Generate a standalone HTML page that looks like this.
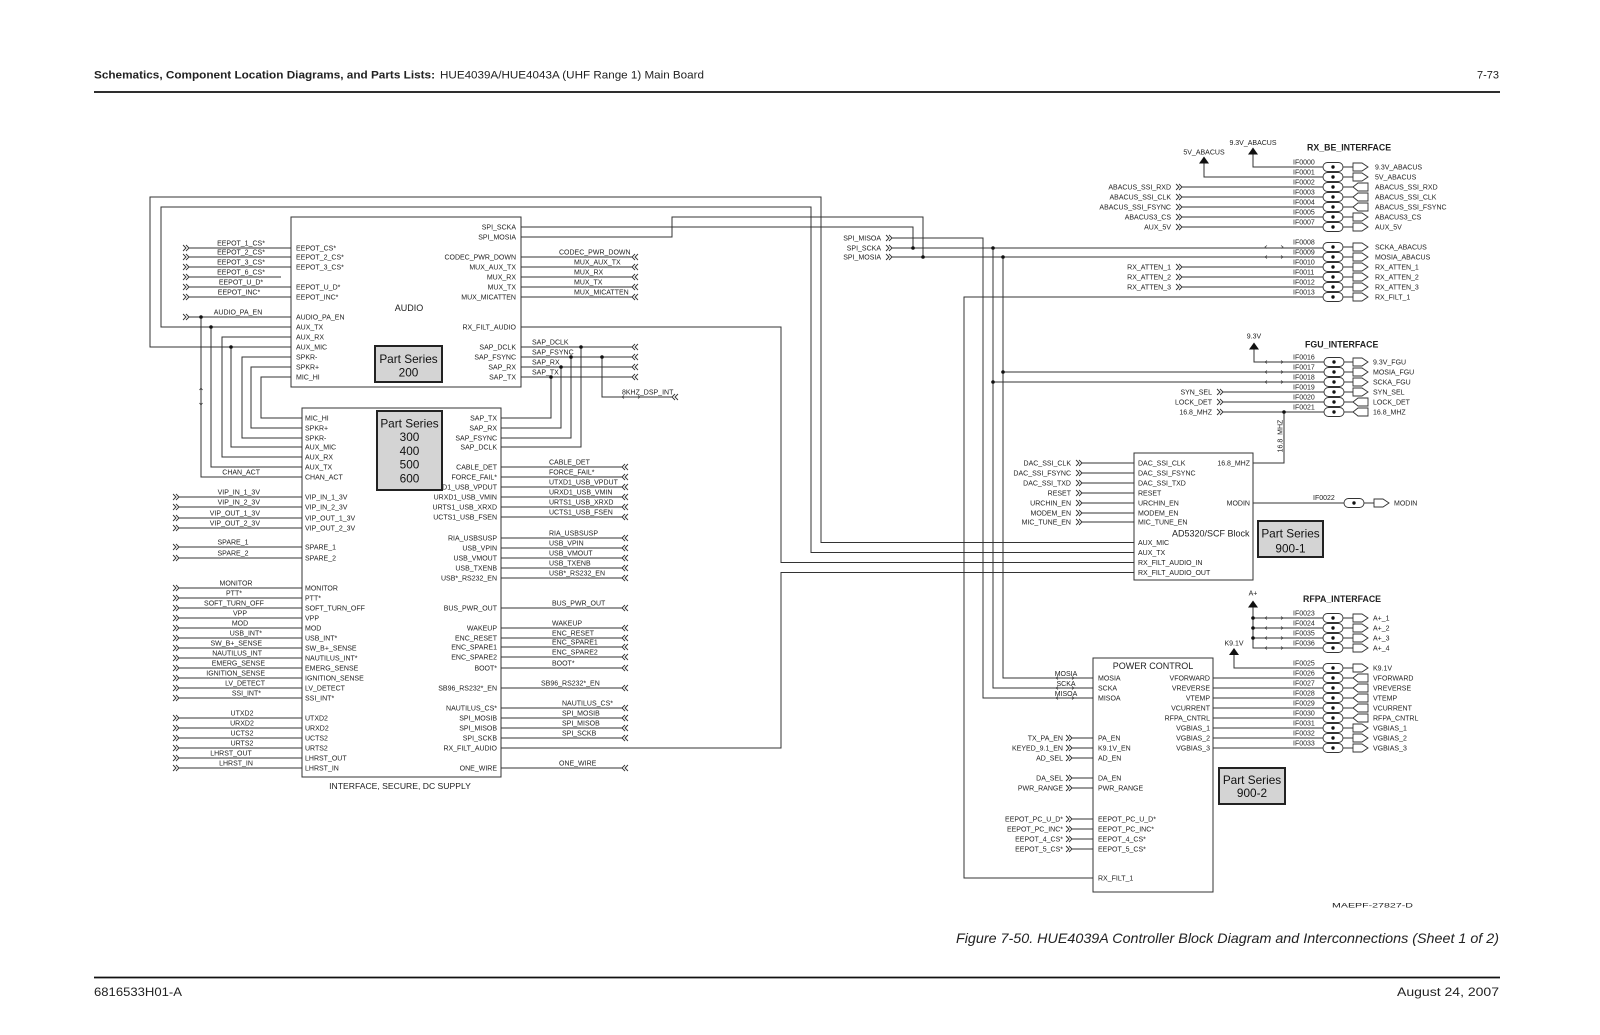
<!DOCTYPE html>
<html><head><meta charset="utf-8"><style>
html,body{margin:0;padding:0;background:#fff;}
svg{display:block;}
text{font-family:"Liberation Sans",Arial,sans-serif;fill:#222;}
.s{font-size:7px;}
.e{text-anchor:end;}
.m{text-anchor:middle;}
.ps{font-size:11.8px;fill:#111;text-anchor:middle;}
.b{font-weight:bold;font-size:8.8px;}
</style></head><body>
<svg width="1600" height="1035" viewBox="0 0 1600 1035" xmlns="http://www.w3.org/2000/svg">
<defs>
<path id="ai" d="M0,-3L3,0L0,3M3,-3L6,0L3,3" fill="none" stroke="#333" stroke-width="0.9"/>
<path id="ao" d="M6,-3L3,0L6,3M3,-3L0,0L3,3" fill="none" stroke="#333" stroke-width="0.9"/>
<polygon id="fo" points="0,-4 9,-4 15,0 9,4 0,4" fill="#fff" stroke="#333" stroke-width="0.9"/>
<polygon id="fi" points="0,0 5,-4 15,-4 15,4 5,4" fill="#fff" stroke="#333" stroke-width="0.9"/>
<g id="cn"><rect x="0" y="-4.5" width="20" height="9" rx="4.5" fill="#fff" stroke="#333" stroke-width="0.9"/><circle cx="10" cy="0" r="1.7" fill="#111"/></g>
<path id="tk" d="M2,-1.5L0,0L2,1.5M16,-1.5L18,0L16,1.5" fill="none" stroke="#333" stroke-width="0.7"/>
<polygon id="tri" points="-5,7 5,7 0,0" fill="#111"/>
<circle id="d" r="1.8" fill="#111"/>
</defs>
<rect width="1600" height="1035" fill="#fff"/>

<!-- header / footer -->
<text x="94" y="78.5" font-size="11" font-weight="bold" textLength="341" lengthAdjust="spacingAndGlyphs">Schematics, Component Location Diagrams, and Parts Lists:</text>
<text x="440" y="78.5" font-size="11" textLength="264" lengthAdjust="spacingAndGlyphs">HUE4039A/HUE4043A (UHF Range 1) Main Board</text>
<text x="1499" y="78.5" font-size="11" text-anchor="end">7-73</text>
<line x1="94" y1="92" x2="1500" y2="92" stroke="#111" stroke-width="1.8"/>
<line x1="94" y1="977.5" x2="1500" y2="977.5" stroke="#111" stroke-width="1.8"/>
<text x="94" y="996" font-size="12" textLength="88" lengthAdjust="spacingAndGlyphs">6816533H01-A</text>
<text x="1397" y="996" font-size="12" textLength="102" lengthAdjust="spacingAndGlyphs">August 24, 2007</text>
<text x="956" y="943" font-size="14" font-style="italic" textLength="543" lengthAdjust="spacingAndGlyphs">Figure 7-50. HUE4039A Controller Block Diagram and Interconnections (Sheet 1 of 2)</text>
<text x="1332" y="907.5" font-size="6.5" textLength="81" lengthAdjust="spacingAndGlyphs">MAEPF-27827-D</text>

<!-- wires -->
<g fill="none" stroke="#333" stroke-width="1">
<path d="M291,347H150V197H821V542.5H1134"/>
<path d="M291,327H161V207H811V552.5H1134"/>
<path d="M189,317H291M201,317V477H302"/>
<path d="M211,327V467H302"/>
<path d="M291,337H222V457H302"/>
<path d="M231,347V447H302"/>
<path d="M291,357H242V438H302"/>
<path d="M291,367H251V428H302"/>
<path d="M291,377H261V418H302"/>
<path d="M189,248H291M189,257H291M189,267H291M189,277H281M189,287H291M189,297H291"/>
<path d="M521,227H913V248"/>
<path d="M521,237H672V217H923V257"/>
<path d="M521,257H632M521,267H632M521,277H632M521,287H632M521,297H632"/>
<path d="M521,327H781V562.5H1134"/>
<path d="M521,347H632M521,357H632M521,367H632M521,377H632"/>
<path d="M581,347V447H501M571,357V438H501M561,367V428H501M551,377V418H501"/>
<path d="M602,357V397H672"/>
<path d="M501,748H781V572.5H1134"/>
<path d="M501,467H622M501,477H622M501,487H622M501,497H622M501,507H622M501,517H622M501,538H622M501,548H622M501,558H622M501,568H622M501,578H622M501,608H622M501,628H622M501,638H622M501,647H622M501,657H622M501,668H622M501,688H622M501,708H622M501,718H622M501,728H622M501,738H622M501,768H622"/>
<path d="M179,497H302M179,507H302M179,518H302M179,528H302M179,547H302M179,558H302M179,588H302M179,598H302M179,608H302M179,618H302M179,628H302M179,638H302M179,648H302M179,658H302M179,668H302M179,678H302M179,688H302M179,698H302M179,718H302M179,728H302M179,738H302M179,748H302M179,758H302M179,768H302"/>
<path d="M892,238H983V698H1093"/>
<path d="M892,248H1323M993,248V688H1093M993,382H1324"/>
<path d="M892,257H1323M1003,257V678H1093M1003,372H1324"/>
<path d="M1093,878H964V297H1323"/>
<path d="M1182,187H1323M1182,197H1323M1182,207H1323M1182,217H1323M1182,227H1323M1182,267H1323M1182,277H1323M1182,287H1323"/>
<path d="M1204,163V177H1323M1253,154V167H1323"/>
<path d="M1343,167H1353M1343,177H1353M1343,187H1353M1343,197H1353M1343,207H1353M1343,217H1353M1343,227H1353M1343,247H1353M1343,257H1353M1343,267H1353M1343,277H1353M1343,287H1353M1343,297H1353"/>
<path d="M1254,349V362H1324M1223,392H1324M1223,402H1324M1223,412H1324M1284,412V463H1253"/>
<path d="M1344,362H1353M1344,372H1353M1344,382H1353M1344,392H1353M1344,402H1353M1344,412H1353"/>
<path d="M1082,463H1134M1082,473H1134M1082,483H1134M1082,493H1134M1082,503H1134M1082,513H1134M1082,522H1134"/>
<path d="M1253,503H1344M1364,503H1374"/>
<path d="M1253,607V648H1323M1253,618H1323M1253,628H1323M1253,638H1323M1234,655V668H1323"/>
<path d="M1213,678H1323M1213,688H1323M1213,698H1323M1213,708H1323M1213,718H1323M1213,728H1323M1213,738H1323M1213,748H1323"/>
<path d="M1343,618H1353M1343,628H1353M1343,638H1353M1343,648H1353M1343,668H1353M1343,678H1353M1343,688H1353M1343,698H1353M1343,708H1353M1343,718H1353M1343,728H1353M1343,738H1353M1343,748H1353"/>
<path d="M1072,738H1093M1072,748H1093M1072,758H1093M1072,778H1093M1072,788H1093M1072,819H1093M1072,829H1093M1072,839H1093M1072,849H1093"/>
</g>

<!-- dots -->
<use href="#d" x="201" y="317"/><use href="#d" x="211" y="327"/><use href="#d" x="231" y="347"/>
<use href="#d" x="581" y="347"/><use href="#d" x="571" y="357"/><use href="#d" x="561" y="367"/><use href="#d" x="551" y="377"/><use href="#d" x="602" y="357"/>
<use href="#d" x="913" y="248"/><use href="#d" x="923" y="257"/><use href="#d" x="993" y="248"/><use href="#d" x="1003" y="257"/>
<use href="#d" x="993" y="382"/><use href="#d" x="1003" y="372"/><use href="#d" x="1284" y="412"/>
<use href="#d" x="1253" y="618"/><use href="#d" x="1253" y="628"/><use href="#d" x="1253" y="638"/>

<!-- ticks -->
<use href="#tk" x="1265" y="247"/><use href="#tk" x="1265" y="257"/>
<use href="#tk" x="1265" y="362"/><use href="#tk" x="1265" y="372"/><use href="#tk" x="1265" y="382"/>
<use href="#tk" x="1265" y="618"/><use href="#tk" x="1265" y="628"/><use href="#tk" x="1265" y="638"/><use href="#tk" x="1265" y="648"/>
<use href="#tk" x="1056" y="678"/><use href="#tk" x="1056" y="688"/><use href="#tk" x="1056" y="698"/>
<use href="#tk" x="622" y="397"/>
<path d="M199.5,390L201,388L202.5,390M199.5,403L201,405L202.5,403" fill="none" stroke="#333" stroke-width="0.7"/>

<!-- input arrows >> -->
<g>
<use href="#ai" x="183" y="248"/><use href="#ai" x="183" y="257"/><use href="#ai" x="183" y="267"/><use href="#ai" x="183" y="277"/><use href="#ai" x="183" y="287"/><use href="#ai" x="183" y="297"/><use href="#ai" x="183" y="317"/>
<use href="#ai" x="173" y="497"/><use href="#ai" x="173" y="507"/><use href="#ai" x="173" y="518"/><use href="#ai" x="173" y="528"/><use href="#ai" x="173" y="547"/><use href="#ai" x="173" y="558"/>
<use href="#ai" x="173" y="588"/><use href="#ai" x="173" y="598"/><use href="#ai" x="173" y="608"/><use href="#ai" x="173" y="618"/><use href="#ai" x="173" y="628"/><use href="#ai" x="173" y="638"/><use href="#ai" x="173" y="648"/><use href="#ai" x="173" y="658"/><use href="#ai" x="173" y="668"/><use href="#ai" x="173" y="678"/><use href="#ai" x="173" y="688"/><use href="#ai" x="173" y="698"/>
<use href="#ai" x="173" y="718"/><use href="#ai" x="173" y="728"/><use href="#ai" x="173" y="738"/><use href="#ai" x="173" y="748"/><use href="#ai" x="173" y="758"/><use href="#ai" x="173" y="768"/>
<use href="#ai" x="886" y="238"/><use href="#ai" x="886" y="248"/><use href="#ai" x="886" y="257"/>
<use href="#ai" x="1176" y="187"/><use href="#ai" x="1176" y="197"/><use href="#ai" x="1176" y="207"/><use href="#ai" x="1176" y="217"/><use href="#ai" x="1176" y="227"/><use href="#ai" x="1176" y="267"/><use href="#ai" x="1176" y="277"/><use href="#ai" x="1176" y="287"/>
<use href="#ai" x="1217" y="392"/><use href="#ai" x="1217" y="402"/><use href="#ai" x="1217" y="412"/>
<use href="#ai" x="1076" y="463"/><use href="#ai" x="1076" y="473"/><use href="#ai" x="1076" y="483"/><use href="#ai" x="1076" y="493"/><use href="#ai" x="1076" y="503"/><use href="#ai" x="1076" y="513"/><use href="#ai" x="1076" y="522"/>
<use href="#ai" x="1066" y="738"/><use href="#ai" x="1066" y="748"/><use href="#ai" x="1066" y="758"/><use href="#ai" x="1066" y="778"/><use href="#ai" x="1066" y="788"/><use href="#ai" x="1066" y="819"/><use href="#ai" x="1066" y="829"/><use href="#ai" x="1066" y="839"/><use href="#ai" x="1066" y="849"/>
</g>
<!-- output arrows << -->
<g>
<use href="#ao" x="632" y="257"/><use href="#ao" x="632" y="267"/><use href="#ao" x="632" y="277"/><use href="#ao" x="632" y="287"/><use href="#ao" x="632" y="297"/>
<use href="#ao" x="632" y="347"/><use href="#ao" x="632" y="357"/><use href="#ao" x="632" y="367"/><use href="#ao" x="632" y="377"/>
<use href="#ao" x="672" y="397"/>
<use href="#ao" x="622" y="467"/><use href="#ao" x="622" y="477"/><use href="#ao" x="622" y="487"/><use href="#ao" x="622" y="497"/><use href="#ao" x="622" y="507"/><use href="#ao" x="622" y="517"/>
<use href="#ao" x="622" y="538"/><use href="#ao" x="622" y="548"/><use href="#ao" x="622" y="558"/><use href="#ao" x="622" y="568"/><use href="#ao" x="622" y="578"/>
<use href="#ao" x="622" y="608"/><use href="#ao" x="622" y="628"/><use href="#ao" x="622" y="638"/><use href="#ao" x="622" y="647"/><use href="#ao" x="622" y="657"/><use href="#ao" x="622" y="668"/>
<use href="#ao" x="622" y="688"/><use href="#ao" x="622" y="708"/><use href="#ao" x="622" y="718"/><use href="#ao" x="622" y="728"/><use href="#ao" x="622" y="738"/><use href="#ao" x="622" y="768"/>
</g>

<!-- connectors & flags -->
<g>
<use href="#cn" x="1323" y="167"/><use href="#cn" x="1323" y="177"/><use href="#cn" x="1323" y="187"/><use href="#cn" x="1323" y="197"/><use href="#cn" x="1323" y="207"/><use href="#cn" x="1323" y="217"/><use href="#cn" x="1323" y="227"/>
<use href="#cn" x="1323" y="247"/><use href="#cn" x="1323" y="257"/><use href="#cn" x="1323" y="267"/><use href="#cn" x="1323" y="277"/><use href="#cn" x="1323" y="287"/><use href="#cn" x="1323" y="297"/>
<use href="#fo" x="1353" y="167"/><use href="#fo" x="1353" y="177"/><use href="#fi" x="1353" y="187"/><use href="#fi" x="1353" y="197"/><use href="#fi" x="1353" y="207"/><use href="#fo" x="1353" y="217"/><use href="#fo" x="1353" y="227"/>
<use href="#fo" x="1353" y="247"/><use href="#fo" x="1353" y="257"/><use href="#fo" x="1353" y="267"/><use href="#fo" x="1353" y="277"/><use href="#fo" x="1353" y="287"/><use href="#fo" x="1353" y="297"/>

<use href="#cn" x="1324" y="362"/><use href="#cn" x="1324" y="372"/><use href="#cn" x="1324" y="382"/><use href="#cn" x="1324" y="392"/><use href="#cn" x="1324" y="402"/><use href="#cn" x="1324" y="412"/>
<use href="#fo" x="1353" y="362"/><use href="#fo" x="1353" y="372"/><use href="#fo" x="1353" y="382"/><use href="#fo" x="1353" y="392"/><use href="#fi" x="1353" y="402"/><use href="#fi" x="1353" y="412"/>

<use href="#cn" x="1344" y="503"/><use href="#fo" x="1374" y="503"/>

<use href="#cn" x="1323" y="618"/><use href="#cn" x="1323" y="628"/><use href="#cn" x="1323" y="638"/><use href="#cn" x="1323" y="648"/>
<use href="#cn" x="1323" y="668"/><use href="#cn" x="1323" y="678"/><use href="#cn" x="1323" y="688"/><use href="#cn" x="1323" y="698"/><use href="#cn" x="1323" y="708"/><use href="#cn" x="1323" y="718"/><use href="#cn" x="1323" y="728"/><use href="#cn" x="1323" y="738"/><use href="#cn" x="1323" y="748"/>
<use href="#fo" x="1353" y="618"/><use href="#fo" x="1353" y="628"/><use href="#fo" x="1353" y="638"/><use href="#fo" x="1353" y="648"/>
<use href="#fo" x="1353" y="668"/><use href="#fi" x="1353" y="678"/><use href="#fi" x="1353" y="688"/><use href="#fi" x="1353" y="698"/><use href="#fi" x="1353" y="708"/><use href="#fi" x="1353" y="718"/><use href="#fo" x="1353" y="728"/><use href="#fo" x="1353" y="738"/><use href="#fo" x="1353" y="748"/>
</g>

<!-- power triangles -->
<use href="#tri" x="1204" y="156.5"/><use href="#tri" x="1253" y="147.5"/><use href="#tri" x="1254" y="342.5"/><use href="#tri" x="1253" y="600.5"/><use href="#tri" x="1234" y="648"/>

<!-- blocks -->
<rect x="291" y="217" width="230" height="170" fill="none" stroke="#333" stroke-width="1"/>
<rect x="302" y="408" width="199" height="369" fill="none" stroke="#333" stroke-width="1"/>
<rect x="1134" y="453" width="119" height="127" fill="none" stroke="#333" stroke-width="1"/>
<rect x="1093" y="658" width="120" height="234" fill="none" stroke="#333" stroke-width="1"/>

<!-- AUDIO block text -->
<g class="s">
<text x="296" y="250.5">EEPOT_CS*</text>
<text x="296" y="259.5">EEPOT_2_CS*</text>
<text x="296" y="269.5">EEPOT_3_CS*</text>
<text x="296" y="289.5">EEPOT_U_D*</text>
<text x="296" y="299.5">EEPOT_INC*</text>
<text x="296" y="319.5">AUDIO_PA_EN</text>
<text x="296" y="329.5">AUX_TX</text>
<text x="296" y="339.5">AUX_RX</text>
<text x="296" y="349.5">AUX_MIC</text>
<text x="296" y="359.5">SPKR-</text>
<text x="296" y="369.5">SPKR+</text>
<text x="296" y="379.5">MIC_HI</text>
<text class="m" x="241" y="245.5">EEPOT_1_CS*</text>
<text class="m" x="241" y="254.5">EEPOT_2_CS*</text>
<text class="m" x="241" y="264.5">EEPOT_3_CS*</text>
<text class="m" x="241" y="274.5">EEPOT_6_CS*</text>
<text class="m" x="241" y="284.5">EEPOT_U_D*</text>
<text class="m" x="239" y="294.5">EEPOT_INC*</text>
<text class="m" x="238" y="314.5">AUDIO_PA_EN</text>
<text class="e" x="516" y="229.5">SPI_SCKA</text>
<text class="e" x="516" y="239.5">SPI_MOSIA</text>
<text class="e" x="516" y="259.5">CODEC_PWR_DOWN</text>
<text class="e" x="516" y="269.5">MUX_AUX_TX</text>
<text class="e" x="516" y="279.5">MUX_RX</text>
<text class="e" x="516" y="289.5">MUX_TX</text>
<text class="e" x="516" y="299.5">MUX_MICATTEN</text>
<text class="e" x="516" y="329.5">RX_FILT_AUDIO</text>
<text class="e" x="516" y="349.5">SAP_DCLK</text>
<text class="e" x="516" y="359.5">SAP_FSYNC</text>
<text class="e" x="516" y="369.5">SAP_RX</text>
<text class="e" x="516" y="379.5">SAP_TX</text>
<text x="559" y="254.5">CODEC_PWR_DOWN</text>
<text x="574" y="264.5">MUX_AUX_TX</text>
<text x="574" y="274.5">MUX_RX</text>
<text x="574" y="284.5">MUX_TX</text>
<text x="574" y="294.5">MUX_MICATTEN</text>
<text x="532" y="344.5">SAP_DCLK</text>
<text x="532" y="354.5">SAP_FSYNC</text>
<text x="532" y="364.5">SAP_RX</text>
<text x="532" y="374.5">SAP_TX</text>
<text x="622" y="394.5">8KHZ_DSP_INT</text>
</g>
<text x="409" y="311" font-size="9" text-anchor="middle">AUDIO</text>

<!-- INTERFACE block text -->
<g class="s">
<text x="305" y="420.5">MIC_HI</text>
<text x="305" y="430.5">SPKR+</text>
<text x="305" y="440.5">SPKR-</text>
<text x="305" y="449.5">AUX_MIC</text>
<text x="305" y="459.5">AUX_RX</text>
<text x="305" y="469.5">AUX_TX</text>
<text x="305" y="479.5">CHAN_ACT</text>
<text x="305" y="499.5">VIP_IN_1_3V</text>
<text x="305" y="509.5">VIP_IN_2_3V</text>
<text x="305" y="520.5">VIP_OUT_1_3V</text>
<text x="305" y="530.5">VIP_OUT_2_3V</text>
<text x="305" y="549.5">SPARE_1</text>
<text x="305" y="560.5">SPARE_2</text>
<text x="305" y="590.5">MONITOR</text>
<text x="305" y="600.5">PTT*</text>
<text x="305" y="610.5">SOFT_TURN_OFF</text>
<text x="305" y="620.5">VPP</text>
<text x="305" y="630.5">MOD</text>
<text x="305" y="640.5">USB_INT*</text>
<text x="305" y="650.5">SW_B+_SENSE</text>
<text x="305" y="660.5">NAUTILUS_INT*</text>
<text x="305" y="670.5">EMERG_SENSE</text>
<text x="305" y="680.5">IGNITION_SENSE</text>
<text x="305" y="690.5">LV_DETECT</text>
<text x="305" y="700.5">SSI_INT*</text>
<text x="305" y="720.5">UTXD2</text>
<text x="305" y="730.5">URXD2</text>
<text x="305" y="740.5">UCTS2</text>
<text x="305" y="750.5">URTS2</text>
<text x="305" y="760.5">LHRST_OUT</text>
<text x="305" y="770.5">LHRST_IN</text>

<text class="e" x="260" y="474.5">CHAN_ACT</text>
<text class="e" x="260" y="494.5">VIP_IN_1_3V</text>
<text class="e" x="260" y="504.5">VIP_IN_2_3V</text>
<text class="e" x="260" y="515.5">VIP_OUT_1_3V</text>
<text class="e" x="260" y="525.5">VIP_OUT_2_3V</text>
<text class="m" x="233" y="544.5">SPARE_1</text>
<text class="m" x="233" y="555.5">SPARE_2</text>
<text class="m" x="236" y="585.5">MONITOR</text>
<text class="m" x="234" y="595.5">PTT*</text>
<text class="m" x="234" y="605.5">SOFT_TURN_OFF</text>
<text class="m" x="240" y="615.5">VPP</text>
<text class="m" x="240" y="625.5">MOD</text>
<text class="e" x="262" y="635.5">USB_INT*</text>
<text class="e" x="262" y="645.5">SW_B+_SENSE</text>
<text class="e" x="262" y="655.5">NAUTILUS_INT</text>
<text class="e" x="265" y="665.5">EMERG_SENSE</text>
<text class="e" x="265" y="675.5">IGNITION_SENSE</text>
<text class="e" x="265" y="685.5">LV_DETECT</text>
<text class="e" x="261" y="695.5">SSI_INT*</text>
<text class="m" x="242" y="715.5">UTXD2</text>
<text class="m" x="242" y="725.5">URXD2</text>
<text class="m" x="242" y="735.5">UCTS2</text>
<text class="m" x="242" y="745.5">URTS2</text>
<text class="m" x="231" y="755.5">LHRST_OUT</text>
<text class="m" x="236" y="765.5">LHRST_IN</text>

<text class="e" x="497" y="420.5">SAP_TX</text>
<text class="e" x="497" y="430.5">SAP_RX</text>
<text class="e" x="497" y="440.5">SAP_FSYNC</text>
<text class="e" x="497" y="449.5">SAP_DCLK</text>
<text class="e" x="497" y="469.5">CABLE_DET</text>
<text class="e" x="497" y="479.5">FORCE_FAIL*</text>
<text class="e" x="497" y="489.5">UTXD1_USB_VPDUT</text>
<text class="e" x="497" y="499.5">URXD1_USB_VMIN</text>
<text class="e" x="497" y="509.5">URTS1_USB_XRXD</text>
<text class="e" x="497" y="519.5">UCTS1_USB_FSEN</text>
<text class="e" x="497" y="540.5">RIA_USBSUSP</text>
<text class="e" x="497" y="550.5">USB_VPIN</text>
<text class="e" x="497" y="560.5">USB_VMOUT</text>
<text class="e" x="497" y="570.5">USB_TXENB</text>
<text class="e" x="497" y="580.5">USB*_RS232_EN</text>
<text class="e" x="497" y="610.5">BUS_PWR_OUT</text>
<text class="e" x="497" y="630.5">WAKEUP</text>
<text class="e" x="497" y="640.5">ENC_RESET</text>
<text class="e" x="497" y="649.5">ENC_SPARE1</text>
<text class="e" x="497" y="659.5">ENC_SPARE2</text>
<text class="e" x="497" y="670.5">BOOT*</text>
<text class="e" x="497" y="690.5">SB96_RS232*_EN</text>
<text class="e" x="497" y="710.5">NAUTILUS_CS*</text>
<text class="e" x="497" y="720.5">SPI_MOSIB</text>
<text class="e" x="497" y="730.5">SPI_MISOB</text>
<text class="e" x="497" y="740.5">SPI_SCKB</text>
<text class="e" x="497" y="750.5">RX_FILT_AUDIO</text>
<text class="e" x="497" y="770.5">ONE_WIRE</text>

<text x="549" y="464.5">CABLE_DET</text>
<text x="549" y="474.5">FORCE_FAIL*</text>
<text x="549" y="484.5">UTXD1_USB_VPDUT</text>
<text x="549" y="494.5">URXD1_USB_VMIN</text>
<text x="549" y="504.5">URTS1_USB_XRXD</text>
<text x="549" y="514.5">UCTS1_USB_FSEN</text>
<text x="549" y="535.5">RIA_USBSUSP</text>
<text x="549" y="545.5">USB_VPIN</text>
<text x="549" y="555.5">USB_VMOUT</text>
<text x="549" y="565.5">USB_TXENB</text>
<text x="549" y="575.5">USB*_RS232_EN</text>
<text x="552" y="605.5">BUS_PWR_OUT</text>
<text x="552" y="625.5">WAKEUP</text>
<text x="552" y="635.5">ENC_RESET</text>
<text x="552" y="644.5">ENC_SPARE1</text>
<text x="552" y="654.5">ENC_SPARE2</text>
<text x="552" y="665.5">BOOT*</text>
<text x="541" y="685.5">SB96_RS232*_EN</text>
<text x="562" y="705.5">NAUTILUS_CS*</text>
<text x="562" y="715.5">SPI_MOSIB</text>
<text x="562" y="725.5">SPI_MISOB</text>
<text x="562" y="735.5">SPI_SCKB</text>
<text x="559" y="765.5">ONE_WIRE</text>
</g>
<text x="400" y="789" font-size="8.6" text-anchor="middle">INTERFACE, SECURE, DC SUPPLY</text>

<!-- Part series boxes -->
<rect x="375" y="346" width="67" height="36" fill="#d4d4d4" stroke="#222" stroke-width="2"/>
<text class="ps" x="408.5" y="363">Part Series</text>
<text class="ps" x="408.5" y="376.5">200</text>
<rect x="377" y="411" width="65" height="79" fill="#d4d4d4" stroke="#222" stroke-width="2"/>
<text class="ps" x="409.5" y="427.5">Part Series</text>
<text class="ps" x="409.5" y="441">300</text>
<text class="ps" x="409.5" y="455">400</text>
<text class="ps" x="409.5" y="468.5">500</text>
<text class="ps" x="409.5" y="482.5">600</text>
<rect x="1258" y="521" width="65" height="36" fill="#d4d4d4" stroke="#222" stroke-width="2"/>
<text class="ps" x="1290.5" y="537.5">Part Series</text>
<text class="ps" x="1290.5" y="552.5">900-1</text>
<rect x="1219" y="768" width="66" height="36" fill="#d4d4d4" stroke="#222" stroke-width="2"/>
<text class="ps" x="1252" y="784">Part Series</text>
<text class="ps" x="1252" y="797">900-2</text>

<!-- SPI ext -->
<g class="s">
<text class="e" x="881" y="240.5">SPI_MISOA</text>
<text class="e" x="881" y="250.5">SPI_SCKA</text>
<text class="e" x="881" y="259.5">SPI_MOSIA</text>
</g>

<!-- RX_BE_INTERFACE -->
<text class="b" x="1307" y="150.5">RX_BE_INTERFACE</text>
<g class="s">
<text class="m" x="1204" y="154.5">5V_ABACUS</text>
<text class="m" x="1253" y="145">9.3V_ABACUS</text>
<text x="1293" y="164.5">IF0000</text>
<text x="1293" y="174.5">IF0001</text>
<text x="1293" y="184.5">IF0002</text>
<text x="1293" y="194.5">IF0003</text>
<text x="1293" y="204.5">IF0004</text>
<text x="1293" y="214.5">IF0005</text>
<text x="1293" y="224.5">IF0007</text>
<text x="1293" y="244.5">IF0008</text>
<text x="1293" y="254.5">IF0009</text>
<text x="1293" y="264.5">IF0010</text>
<text x="1293" y="274.5">IF0011</text>
<text x="1293" y="284.5">IF0012</text>
<text x="1293" y="294.5">IF0013</text>
<text x="1375" y="169.5">9.3V_ABACUS</text>
<text x="1375" y="179.5">5V_ABACUS</text>
<text x="1375" y="189.5">ABACUS_SSI_RXD</text>
<text x="1375" y="199.5">ABACUS_SSI_CLK</text>
<text x="1375" y="209.5">ABACUS_SSI_FSYNC</text>
<text x="1375" y="219.5">ABACUS3_CS</text>
<text x="1375" y="229.5">AUX_5V</text>
<text x="1375" y="249.5">SCKA_ABACUS</text>
<text x="1375" y="259.5">MOSIA_ABACUS</text>
<text x="1375" y="269.5">RX_ATTEN_1</text>
<text x="1375" y="279.5">RX_ATTEN_2</text>
<text x="1375" y="289.5">RX_ATTEN_3</text>
<text x="1375" y="299.5">RX_FILT_1</text>
<text class="e" x="1171" y="189.5">ABACUS_SSI_RXD</text>
<text class="e" x="1171" y="199.5">ABACUS_SSI_CLK</text>
<text class="e" x="1171" y="209.5">ABACUS_SSI_FSYNC</text>
<text class="e" x="1171" y="219.5">ABACUS3_CS</text>
<text class="e" x="1171" y="229.5">AUX_5V</text>
<text class="e" x="1171" y="269.5">RX_ATTEN_1</text>
<text class="e" x="1171" y="279.5">RX_ATTEN_2</text>
<text class="e" x="1171" y="289.5">RX_ATTEN_3</text>
</g>

<!-- FGU -->
<text class="b" x="1305" y="347.5">FGU_INTERFACE</text>
<g class="s">
<text class="m" x="1254" y="338.5">9.3V</text>
<text x="1293" y="359.5">IF0016</text>
<text x="1293" y="369.5">IF0017</text>
<text x="1293" y="379.5">IF0018</text>
<text x="1293" y="389.5">IF0019</text>
<text x="1293" y="399.5">IF0020</text>
<text x="1293" y="409.5">IF0021</text>
<text x="1373" y="364.5">9.3V_FGU</text>
<text x="1373" y="374.5">MOSIA_FGU</text>
<text x="1373" y="384.5">SCKA_FGU</text>
<text x="1373" y="394.5">SYN_SEL</text>
<text x="1373" y="404.5">LOCK_DET</text>
<text x="1373" y="414.5">16.8_MHZ</text>
<text class="e" x="1212" y="394.5">SYN_SEL</text>
<text class="e" x="1212" y="404.5">LOCK_DET</text>
<text class="e" x="1212" y="414.5">16.8_MHZ</text>
<text class="m" transform="translate(1282.5,436) rotate(-90)">16.8_MHZ</text>
</g>

<!-- AD5320 -->
<g class="s">
<text x="1138" y="465.5">DAC_SSI_CLK</text>
<text x="1138" y="475.5">DAC_SSI_FSYNC</text>
<text x="1138" y="485.5">DAC_SSI_TXD</text>
<text x="1138" y="495.5">RESET</text>
<text x="1138" y="505.5">URCHIN_EN</text>
<text x="1138" y="515.5">MODEM_EN</text>
<text x="1138" y="524.5">MIC_TUNE_EN</text>
<text x="1138" y="545">AUX_MIC</text>
<text x="1138" y="555">AUX_TX</text>
<text x="1138" y="565">RX_FILT_AUDIO_IN</text>
<text x="1138" y="575">RX_FILT_AUDIO_OUT</text>
<text class="e" x="1250" y="465.5">16.8_MHZ</text>
<text class="e" x="1250" y="505.5">MODIN</text>
<text class="e" x="1071" y="465.5">DAC_SSI_CLK</text>
<text class="e" x="1071" y="475.5">DAC_SSI_FSYNC</text>
<text class="e" x="1071" y="485.5">DAC_SSI_TXD</text>
<text class="e" x="1071" y="495.5">RESET</text>
<text class="e" x="1071" y="505.5">URCHIN_EN</text>
<text class="e" x="1071" y="515.5">MODEM_EN</text>
<text class="e" x="1071" y="524.5">MIC_TUNE_EN</text>
<text x="1313" y="500">IF0022</text>
<text x="1394" y="505.5">MODIN</text>
</g>
<text x="1172" y="536.5" font-size="9">AD5320/SCF Block</text>

<!-- RFPA -->
<text class="b" x="1303" y="602">RFPA_INTERFACE</text>
<g class="s">
<text class="m" x="1253" y="595.5">A+</text>
<text class="m" x="1234" y="645.5">K9.1V</text>
<text x="1293" y="615.5">IF0023</text>
<text x="1293" y="625.5">IF0024</text>
<text x="1293" y="635.5">IF0035</text>
<text x="1293" y="645.5">IF0036</text>
<text x="1293" y="665.5">IF0025</text>
<text x="1293" y="675.5">IF0026</text>
<text x="1293" y="685.5">IF0027</text>
<text x="1293" y="695.5">IF0028</text>
<text x="1293" y="705.5">IF0029</text>
<text x="1293" y="715.5">IF0030</text>
<text x="1293" y="725.5">IF0031</text>
<text x="1293" y="735.5">IF0032</text>
<text x="1293" y="745.5">IF0033</text>
<text x="1373" y="620.5">A+_1</text>
<text x="1373" y="630.5">A+_2</text>
<text x="1373" y="640.5">A+_3</text>
<text x="1373" y="650.5">A+_4</text>
<text x="1373" y="670.5">K9.1V</text>
<text x="1373" y="680.5">VFORWARD</text>
<text x="1373" y="690.5">VREVERSE</text>
<text x="1373" y="700.5">VTEMP</text>
<text x="1373" y="710.5">VCURRENT</text>
<text x="1373" y="720.5">RFPA_CNTRL</text>
<text x="1373" y="730.5">VGBIAS_1</text>
<text x="1373" y="740.5">VGBIAS_2</text>
<text x="1373" y="750.5">VGBIAS_3</text>
</g>

<!-- POWER CONTROL -->
<text x="1153" y="669" font-size="9" text-anchor="middle">POWER CONTROL</text>
<g class="s">
<text x="1098" y="680.5">MOSIA</text>
<text x="1098" y="690.5">SCKA</text>
<text x="1098" y="700.5">MISOA</text>
<text x="1098" y="740.5">PA_EN</text>
<text x="1098" y="750.5">K9.1V_EN</text>
<text x="1098" y="760.5">AD_EN</text>
<text x="1098" y="780.5">DA_EN</text>
<text x="1098" y="790.5">PWR_RANGE</text>
<text x="1098" y="821.5">EEPOT_PC_U_D*</text>
<text x="1098" y="831.5">EEPOT_PC_INC*</text>
<text x="1098" y="841.5">EEPOT_4_CS*</text>
<text x="1098" y="851.5">EEPOT_5_CS*</text>
<text x="1098" y="880.5">RX_FILT_1</text>
<text class="e" x="1210" y="680.5">VFORWARD</text>
<text class="e" x="1210" y="690.5">VREVERSE</text>
<text class="e" x="1210" y="700.5">VTEMP</text>
<text class="e" x="1210" y="710.5">VCURRENT</text>
<text class="e" x="1210" y="720.5">RFPA_CNTRL</text>
<text class="e" x="1210" y="730.5">VGBIAS_1</text>
<text class="e" x="1210" y="740.5">VGBIAS_2</text>
<text class="e" x="1210" y="750.5">VGBIAS_3</text>
<text class="m" x="1066" y="676">MOSIA</text>
<text class="m" x="1066" y="686">SCKA</text>
<text class="m" x="1066" y="696">MISOA</text>
<text class="e" x="1063" y="740.5">TX_PA_EN</text>
<text class="e" x="1063" y="750.5">KEYED_9.1_EN</text>
<text class="e" x="1063" y="760.5">AD_SEL</text>
<text class="e" x="1063" y="780.5">DA_SEL</text>
<text class="e" x="1063" y="790.5">PWR_RANGE</text>
<text class="e" x="1063" y="821.5">EEPOT_PC_U_D*</text>
<text class="e" x="1063" y="831.5">EEPOT_PC_INC*</text>
<text class="e" x="1063" y="841.5">EEPOT_4_CS*</text>
<text class="e" x="1063" y="851.5">EEPOT_5_CS*</text>
</g>
</svg>
</body></html>
